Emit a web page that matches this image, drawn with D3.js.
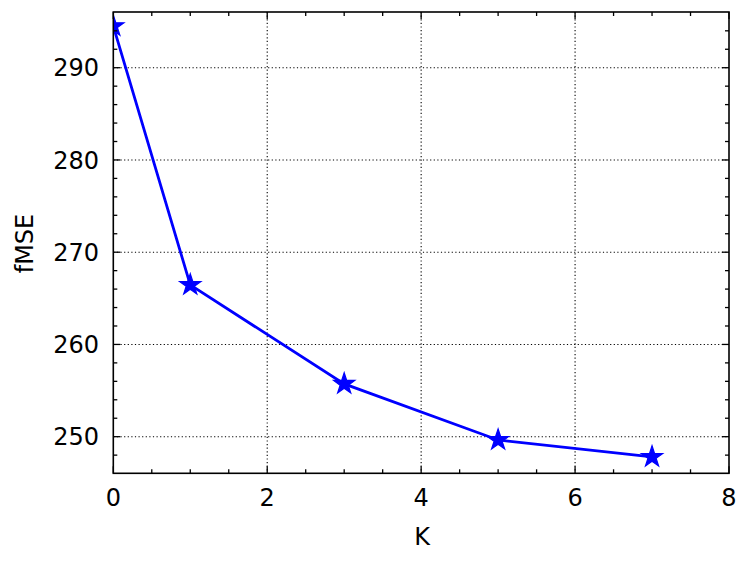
<!DOCTYPE html>
<html><head><meta charset="utf-8">
<script src="https://cdn.jsdelivr.net/npm/d3@7"></script>
<style>body{margin:0;background:#fff}text{font-family:"DejaVu Sans",sans-serif}</style>
</head><body><svg id="c" width="749" height="563"></svg>
<script>
const kValues = [0, 1, 3, 5, 7];
const fmseValues = [294.5, 266.45, 255.72, 249.64, 247.8];
const xTicks = [0, 2, 4, 6, 8];
const yTicks = [250, 260, 270, 280, 290];
const xLabel = "K";
const yLabel = "fMSE";

const svg = d3.select("#c");
const L = 113.3, R = 729, T = 12, B = 473.3;
const x = d3.scaleLinear().domain([0, 8]).range([L, R]);
const y = d3.scaleLinear().domain([246.03, 296.04]).range([B, T]);

svg.append("defs").append("clipPath").attr("id", "clip")
  .append("rect").attr("x", L).attr("y", T).attr("width", R - L).attr("height", B - T);

// grid
const g = svg.append("g");
g.selectAll(".gx").data(xTicks.filter(d => d > 0 && d < 8)).enter().append("line")
  .attr("x1", d => x(d)).attr("x2", d => x(d)).attr("y1", T).attr("y2", B)
  .attr("stroke", "#000").attr("stroke-width", 1.1).attr("stroke-dasharray", "1.2,2.4");
g.selectAll(".gy").data(yTicks).enter().append("line")
  .attr("y1", d => y(d)).attr("y2", d => y(d)).attr("x1", L).attr("x2", R)
  .attr("stroke", "#000").attr("stroke-width", 1.1).attr("stroke-dasharray", "1.2,2.4");

// data
const plot = svg.append("g").attr("clip-path", "url(#clip)");
plot.append("path").datum(kValues.map((k, i) => [k, fmseValues[i]]))
  .attr("d", d3.line().x(d => x(d[0])).y(d => y(d[1])))
  .attr("fill", "none").attr("stroke", "#0000ff").attr("stroke-width", 2.8);
const star = d3.symbol().type(d3.symbolStar).size(140);
plot.selectAll(".m").data(kValues).enter().append("path")
  .attr("d", star).attr("transform", (d, i) => `translate(${x(d)},${y(fmseValues[i])})`)
  .attr("fill", "#0000ff").attr("stroke", "#0000ff").attr("stroke-width", 1.2);

// ticks (inward, all sides)
const xMinor = d3.range(0, 8.01, 0.5).filter(v => v % 2 !== 0);
const yMinor = d3.range(248, 296, 2).filter(v => v % 10 !== 0);
const tk = svg.append("g").attr("stroke", "#000").attr("stroke-width", 1.3);
function xt(vals, len) {
  vals.forEach(v => {
    tk.append("line").attr("x1", x(v)).attr("x2", x(v)).attr("y1", B).attr("y2", B - len);
    tk.append("line").attr("x1", x(v)).attr("x2", x(v)).attr("y1", T).attr("y2", T + len);
  });
}
function yt(vals, len) {
  vals.forEach(v => {
    tk.append("line").attr("y1", y(v)).attr("y2", y(v)).attr("x1", L).attr("x2", L + len);
    tk.append("line").attr("y1", y(v)).attr("y2", y(v)).attr("x1", R).attr("x2", R - len);
  });
}
xt(xTicks, 7); xt(xMinor, 4); yt(yTicks, 7); yt(yMinor, 4);

svg.append("rect").attr("x", L).attr("y", T).attr("width", R - L).attr("height", B - T)
  .attr("fill", "none").attr("stroke", "#000").attr("stroke-width", 1.6);

// labels
svg.selectAll(".xl").data(xTicks).enter().append("text")
  .attr("x", d => x(d)).attr("y", 506).attr("text-anchor", "middle")
  .attr("font-size", 24).text(d => d);
svg.selectAll(".yl").data(yTicks).enter().append("text")
  .attr("x", 99).attr("y", d => y(d) + 8.7).attr("text-anchor", "end")
  .attr("font-size", 24).text(d => d);
svg.append("text").attr("x", 422).attr("y", 545).attr("text-anchor", "middle")
  .attr("font-size", 24).text(xLabel);
svg.append("text").attr("transform", `translate(33,243.5) rotate(-90)`)
  .attr("text-anchor", "middle").attr("font-size", 24).text(yLabel);
</script></body></html>
